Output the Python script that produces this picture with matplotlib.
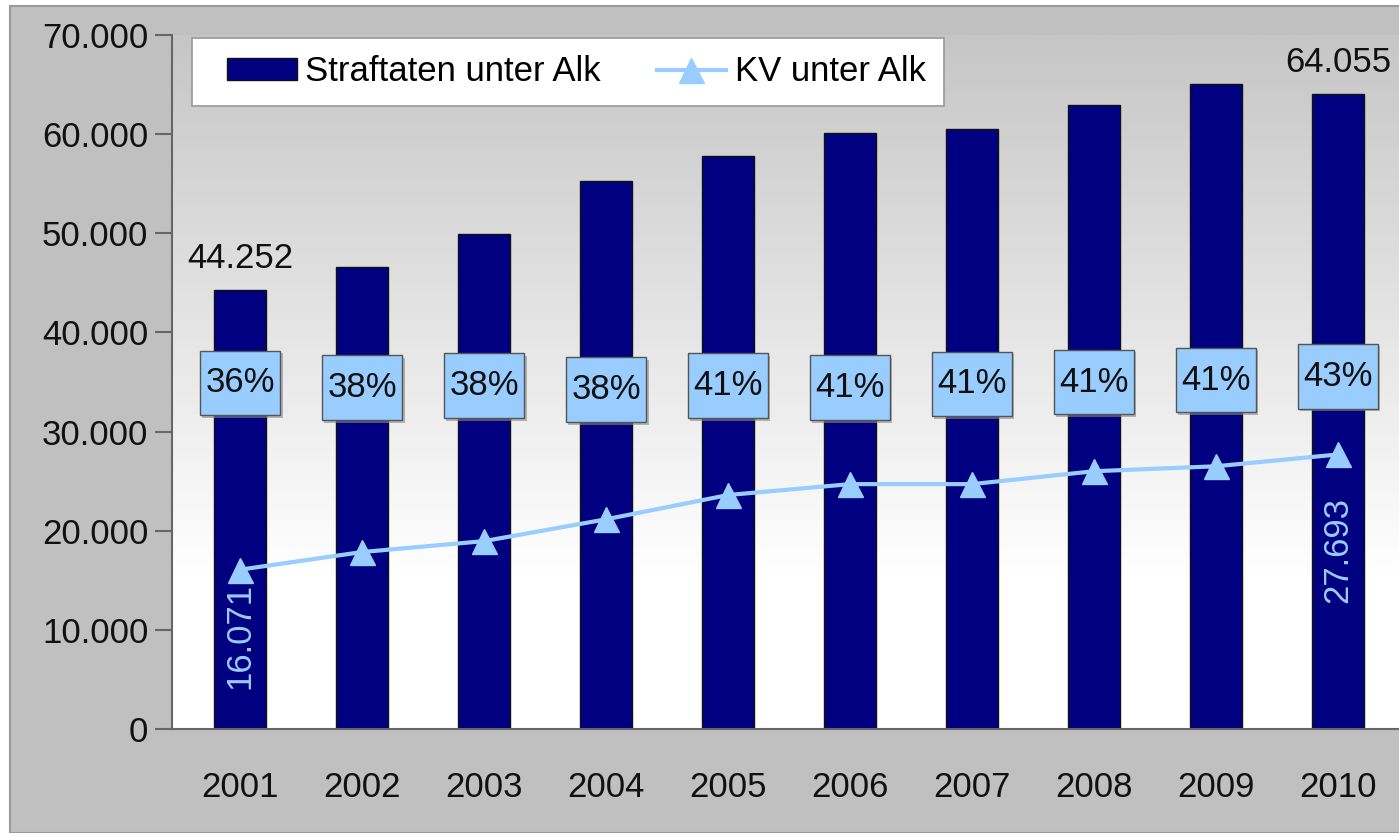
import numpy as np
import matplotlib.pyplot as plt
import matplotlib.patches as patches
from matplotlib.colors import LinearSegmentedColormap

plt.rcParams['font.family'] = ['Liberation Sans', 'DejaVu Sans']

# Daten
years = ['2001', '2002', '2003', '2004', '2005', '2006', '2007', '2008', '2009', '2010']
straftaten = [44252, 46600, 49900, 55300, 57800, 60100, 60500, 62900, 65100, 64055]
kv = [16071, 17850, 18950, 21150, 23600, 24700, 24700, 26000, 26500, 27693]
pct_labels = ['36%', '38%', '38%', '38%', '41%', '41%', '41%', '41%', '41%', '43%']

# Lage der Prozent-Boxen (y-Mitte)
pct_y = [34900, 34400, 34600, 34200, 34600, 34400, 34800, 35000, 35200, 35600]

navy = '#000080'
light_blue = '#99ccff'
fs = 25

fig = plt.figure(figsize=(13.99, 8.33), dpi=100)
fig.patch.set_facecolor('white')

# aeusserer grauer Rahmen
fig.patches.append(patches.Rectangle((10 / 1399, 0), 1.0, 1 - 6 / 833,
                                     transform=fig.transFigure, facecolor='#c0c0c0',
                                     edgecolor='#9a9a9a', linewidth=1.5, zorder=-5))

ax_w_px = 1399 - 172
ax_h_px = 694
ax = fig.add_axes([172 / 1399, 104 / 833, ax_w_px / 1399, ax_h_px / 833])
ax.set_zorder(1)
x = np.arange(len(years))
ax.set_xlim(-0.558, 9.5)
ax.set_ylim(0, 70000)

# Hintergrund mit Verlauf (oben grau, unten weiss)
grad = np.linspace(0, 1, 256).reshape(-1, 1)
cmap = LinearSegmentedColormap.from_list('bg', [(0, '#ffffff'), (0.22, '#ffffff'), (1.0, '#c6c6c6')])
ax.imshow(grad, aspect='auto', cmap=cmap, origin='lower',
          extent=(-0.558, 9.5, 0, 70000), zorder=0)

# Balken
bars = ax.bar(x, straftaten, width=0.43, color=navy, edgecolor='#111111', linewidth=1,
              label='Straftaten unter Alk', zorder=2)

# Linie
line, = ax.plot(x, kv, color=light_blue, linewidth=3, marker='^', markersize=18,
                markeredgecolor=light_blue, label='KV unter Alk', zorder=3)

# Beschriftungen Balken
ax.text(x[0], straftaten[0] + 1500, f'{straftaten[0]:,}'.replace(',', '.'),
        ha='center', va='bottom', fontsize=fs, color='#111111', zorder=4)
ax.text(x[-1], straftaten[-1] + 1500, f'{straftaten[-1]:,}'.replace(',', '.'),
        ha='center', va='bottom', fontsize=fs, color='#111111', zorder=4)

# Beschriftungen Linie (gedreht)
ax.text(x[0], kv[0] - 1350, f'{kv[0]:,}'.replace(',', '.'), rotation=90,
        ha='center', va='top', fontsize=fs, color=light_blue, zorder=4)
ax.text(x[-1], kv[-1] - 4300, f'{kv[-1]:,}'.replace(',', '.'), rotation=90,
        ha='center', va='top', fontsize=fs, color=light_blue, zorder=4)

# Prozent-Boxen
box_w = 0.656
box_h = 6550
for i, lab in enumerate(pct_labels):
    # Schatten
    ax.add_patch(patches.Rectangle((x[i] - box_w / 2 + 0.02, pct_y[i] - box_h / 2 - 250),
                                   box_w, box_h, facecolor='#8a8a8a', edgecolor='none',
                                   alpha=0.6, zorder=4.5))
    ax.add_patch(patches.Rectangle((x[i] - box_w / 2, pct_y[i] - box_h / 2), box_w, box_h,
                                   facecolor=light_blue, edgecolor='#555555', linewidth=1,
                                   zorder=5))
    ax.text(x[i], pct_y[i], lab, ha='center', va='center', fontsize=fs, color='#111111',
            zorder=6)

# Achsen
for side in ['top', 'right']:
    ax.spines[side].set_visible(False)
ax.spines['left'].set_color('#666666')
ax.spines['bottom'].set_color('#666666')
ax.spines['left'].set_linewidth(1.5)
ax.spines['bottom'].set_linewidth(1.5)

ax.set_yticks(range(0, 70001, 10000))
ax.set_yticklabels([f'{v:,}'.replace(',', '.') for v in range(0, 70001, 10000)])
ax.set_xticks(x)
ax.set_xticklabels(years)
ax.tick_params(axis='y', length=12, width=1.5, color='#666666', labelsize=fs,
               labelcolor='#111111', pad=5)
ax.tick_params(axis='x', length=0, labelsize=fs, labelcolor='#111111', pad=30)

# Legende: weisser Kasten + Eintraege ohne eigenen Rahmen
leg_box = patches.Rectangle((20 / ax_w_px, 1 - 106 / ax_h_px + 35 / ax_h_px),
                            752 / ax_w_px, 68 / ax_h_px, transform=ax.transAxes,
                            facecolor='white', edgecolor='#999999', linewidth=1.2,
                            zorder=7, clip_on=False)
ax.add_patch(leg_box)
leg = ax.legend(handles=[bars, line], loc='upper left',
                bbox_to_anchor=(38 / ax_w_px, 0.9957), ncol=2, fontsize=fs,
                frameon=False, borderaxespad=0, handlelength=2.0, handleheight=0.6,
                columnspacing=1.6, borderpad=0.5, handletextpad=0.25)
leg.set_zorder(8)

plt.savefig('out.png', dpi=100)
